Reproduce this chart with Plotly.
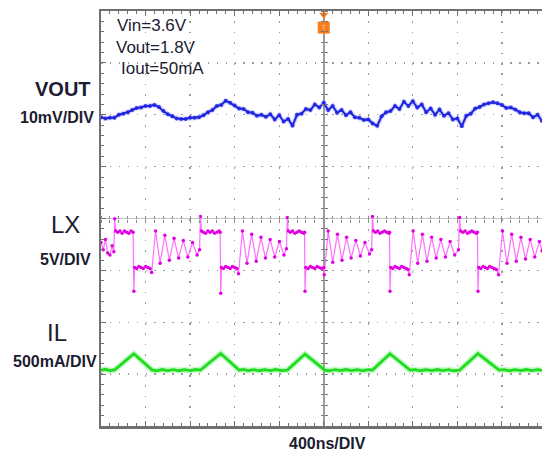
import numpy as np
import plotly.graph_objects as go

# ---------------- data ----------------
# time axis: ns relative to trigger, 400 ns/div
VOUT_T0 = -2000
VOUT_DT = 40
VOUT_mV = [1799.5, 1799.3, 1799.4, 1799.4, 1800.0, 1800.2, 1800.5, 1800.9, 1801.3, 1801.4,
           1801.7, 1801.7, 1801.9, 1801.5, 1800.7, 1800.1, 1799.7, 1799.3, 1799.2, 1799.2,
           1799.4, 1799.4, 1799.5, 1799.9, 1800.5, 1800.9, 1801.7, 1801.9, 1802.7, 1802.3,
           1801.8, 1801.2, 1801.1, 1800.5, 1800.4, 1799.8, 1800.0, 1799.6, 1800.1, 1799.1,
           1799.9, 1798.7, 1799.2, 1797.9, 1800.0, 1800.2, 1801.1, 1800.9, 1802.0, 1801.4,
           1802.3, 1800.9, 1801.7, 1800.4, 1800.9, 1799.9, 1800.5, 1799.5, 1799.4, 1799.0,
           1799.1, 1798.3, 1797.9, 1799.7, 1800.5, 1800.7, 1801.7, 1801.1, 1802.5, 1801.7,
           1802.6, 1801.4, 1802.0, 1800.5, 1801.2, 1800.0, 1801.0, 1799.8, 1800.3, 1799.1,
           1799.3, 1797.8, 1799.8, 1800.2, 1801.2, 1801.5, 1802.0, 1802.2, 1802.4, 1802.2,
           1801.9, 1801.3, 1801.4, 1801.0, 1800.5, 1800.3, 1800.3, 1799.5, 1800.0, 1798.8]

LX_T = [-2000, -1980, -1960, -1940, -1920, -1900, -1885,
        -1877, -1868, -1850, -1830, -1810, -1790, -1770, -1750, -1730, -1712,
        -1705, -1698, -1680, -1660, -1640, -1620, -1600, -1580, -1560, -1545,
        -1510, -1469, -1427, -1386, -1344, -1303, -1261, -1220, -1178, -1137, -1115,
        -1107, -1098, -1080, -1060, -1040, -1020, -1000, -980, -960, -940, -930,
        -925, -918, -900, -880, -860, -840, -820, -800, -780, -765,
        -730, -689, -647, -606, -564, -523, -481, -440, -398, -357, -335,
        -327, -318, -300, -280, -260, -240, -220, -200, -180, -172,
        -168, -161, -140, -120, -100, -80, -60, -40, -20, 0, 5,
        40, 81, 123, 164, 205, 246, 288, 329, 370, 411, 430,
        438, 447, 465, 485, 505, 525, 545, 565, 585, 591,
        595, 602, 620, 640, 660, 680, 700, 720, 740, 755, 768,
        803, 844, 886, 927, 969, 1010, 1052, 1093, 1135, 1176, 1210,
        1220, 1229, 1250, 1270, 1290, 1310, 1330, 1350, 1370, 1380,
        1385, 1392, 1410, 1430, 1450, 1470, 1490, 1510, 1530, 1550, 1570,
        1605, 1646, 1688, 1729, 1771, 1812, 1854, 1895, 1937, 1960]
LX_V = [2.3, 1.6, 2.6, 1.3, 1.1, 2.0, 1.4,
        4.6, 3.4, 3.3, 3.4, 3.2, 3.4, 3.3, 3.2, 3.4, 3.3,
        -2.4, -0.1, -0.2, 0.0, -0.1, -0.2, 0.0, -0.1, -0.2, -0.6,
        3.4, 0.3, 3.0, 0.6, 2.7, 0.8, 2.5, 0.9, 2.3, 1.1, 1.6,
        4.8, 3.4, 3.3, 3.2, 3.4, 3.3, 3.4, 3.2, 3.3, 3.4, 3.3,
        -2.6, -0.1, -0.2, 0.0, -0.1, -0.2, 0.0, -0.1, -0.2, -0.7,
        3.4, 0.3, 3.1, 0.5, 2.8, 0.8, 2.6, 0.9, 2.4, 1.1, 1.7,
        4.7, 3.4, 3.3, 3.4, 3.2, 3.3, 3.4, 3.3, 3.2, 3.3,
        -2.4, -0.1, -0.2, 0.0, -0.1, -0.2, 0.0, -0.1, -0.2, -0.1, -0.8,
        3.4, 0.4, 3.1, 0.6, 2.8, 0.8, 2.5, 1.0, 2.3, 1.2, 1.6,
        4.8, 3.4, 3.3, 3.4, 3.2, 3.3, 3.4, 3.3, 3.2, 3.3,
        -2.4, -0.1, -0.2, 0.0, -0.1, -0.2, 0.0, -0.1, -0.2, -0.3, -0.8,
        3.4, 0.3, 3.1, 0.5, 2.8, 0.8, 2.6, 0.9, 2.4, 1.1, 1.6,
        4.7, 3.4, 3.3, 3.4, 3.2, 3.3, 3.4, 3.3, 3.2, 3.3,
        -2.4, -0.1, -0.2, 0.0, -0.1, -0.2, 0.0, -0.1, -0.2, -0.3, -0.8,
        3.4, 0.3, 3.1, 0.5, 2.8, 0.7, 2.6, 0.9, 2.4, 1.5]

IL_T = [-2000, -1960, -1920, -1877, -1705, -1540, -1500, -1450, -1400, -1350, -1300, -1250,
        -1200, -1150, -1107, -925, -760, -720, -680, -630, -580, -530, -480, -430, -380,
        -327, -168, 10, 50, 100, 150, 200, 250, 300, 350, 400, 438, 595, 775, 820, 870,
        920, 970, 1020, 1070, 1120, 1170, 1220, 1385, 1575, 1620, 1670, 1720, 1770, 1820,
        1870, 1920, 1960]
IL_mA = [0, 8, -5, 2, 158, 0, -6, 6, -4, 5, -6, 4, -5, 6, 0, 160, 0, 6, -5, 5, -6, 4, -5, 6,
         -4, 0, 155, 0, -6, 5, -5, 6, -4, 5, -6, 4, 0, 158, 0, 5, -6, 4, -5, 6, -4, 5, -6, 0,
         160, 0, 5, -6, 4, -5, 6, -4, 5, -3]

TRIGGER_T = [0]

# ---------------- scope geometry ----------------
W, H = 542, 452
ML, MR, MT, MB = 101, 0, 11, 26
NS_PER_DIV = 400
X_RANGE = [-2000, 1960]
Y_DIV = [-4, 4]
# channel scale (units/div) and position of channel zero in divisions
VOUT_SCALE, VOUT_POS, VOUT_REF = 10.0, 2.0, 1800.0
LX_SCALE, LX_POS = 5.0, -0.923
IL_SCALE, IL_POS = 500.0, -2.923


def ch_range(scale, pos, ref=0.0):
    return [ref + (Y_DIV[0] - pos) * scale, ref + (Y_DIV[1] - pos) * scale]


PW = W - ML - MR
PH = H - MT - MB


def px(xp, yp):
    return (xp - ML) / PW, (H - MB - yp) / PH


GRID = "#9a9a9a"
FRAME = "#707070"
TXT = "#1c1c30"

fig = go.Figure()

t_vout = VOUT_T0 + VOUT_DT * np.arange(len(VOUT_mV))

fig.add_trace(go.Scatter(x=t_vout, y=VOUT_mV, xaxis="x", yaxis="y2", mode="lines",
                         line=dict(color="rgba(90,100,255,0.25)", width=5),
                         hoverinfo="skip", showlegend=False))
fig.add_trace(go.Scatter(x=t_vout, y=VOUT_mV, xaxis="x", yaxis="y2", mode="lines+markers",
                         line=dict(color="rgb(30,35,220)", width=2.0),
                         marker=dict(color="rgba(30,35,225,0.85)", size=4, line=dict(width=0)),
                         name="VOUT", showlegend=False))

fig.add_trace(go.Scatter(x=LX_T, y=LX_V, xaxis="x", yaxis="y3", mode="lines+markers",
                         line=dict(color="rgb(255,110,255)", width=1.2),
                         marker=dict(color="rgb(225,0,225)", size=3.5, line=dict(width=0)),
                         name="LX", showlegend=False))

fig.add_trace(go.Scatter(x=IL_T, y=IL_mA, xaxis="x", yaxis="y4", mode="lines",
                         line=dict(color="rgba(90,240,90,0.35)", width=6),
                         hoverinfo="skip", showlegend=False))
fig.add_trace(go.Scatter(x=IL_T, y=IL_mA, xaxis="x", yaxis="y4", mode="lines",
                         line=dict(color="rgb(30,220,30)", width=2.8),
                         name="IL", showlegend=False))

# trigger marker
fig.add_trace(go.Scatter(x=TRIGGER_T, y=[3.68], xaxis="x", yaxis="y", mode="markers+text",
                         marker=dict(symbol="square", size=12, color="rgb(245,125,30)"),
                         text=["T"], textfont=dict(size=8, color="rgb(255,200,150)"),
                         textposition="middle center", hoverinfo="skip", showlegend=False))
fig.add_trace(go.Scatter(x=TRIGGER_T, y=[3.93], xaxis="x", yaxis="y", mode="markers",
                         marker=dict(symbol="triangle-down", size=8, color="rgb(245,125,30)"),
                         hoverinfo="skip", showlegend=False))

# dummy traces so decoration axes are drawn
for xa, ya in [("x2", "y"), ("x3", "y"), ("x4", "y"), ("x", "y5"), ("x", "y6")]:
    fig.add_trace(go.Scatter(x=[None], y=[None], xaxis=xa, yaxis=ya, mode="lines",
                             hoverinfo="skip", showlegend=False))

xc = (0 - X_RANGE[0]) / (X_RANGE[1] - X_RANGE[0])
minor_x = dict(dtick=NS_PER_DIV / 5, tick0=0, ticks="inside", ticklen=3, tickcolor=FRAME,
               showgrid=False)
minor_y = dict(dtick=0.2, tick0=0, ticks="inside", ticklen=3, tickcolor=FRAME, showgrid=False)

layout = dict(
    width=W, height=H,
    margin=dict(l=ML, r=MR, t=MT, b=MB, pad=0),
    paper_bgcolor="white", plot_bgcolor="white",
    showlegend=False, hovermode=False,
    xaxis=dict(range=X_RANGE, dtick=NS_PER_DIV, tick0=0, showticklabels=False,
               showgrid=True, gridcolor=GRID, gridwidth=1.3, griddash="1.5px,8.9px",
               zeroline=True, zerolinecolor="#9c9c9c", zerolinewidth=1.6,
               showline=True, linecolor=FRAME, linewidth=2.5,
               ticks="inside", ticklen=5, tickcolor=FRAME, minor=minor_x, fixedrange=True),
    xaxis2=dict(range=X_RANGE, overlaying="x", side="top", anchor="y", showticklabels=False,
                showgrid=False, zeroline=False, showline=True, linecolor=FRAME, linewidth=2.5,
                dtick=NS_PER_DIV, tick0=0, ticks="inside", ticklen=5, tickcolor=FRAME,
                minor=minor_x),
    xaxis3=dict(range=X_RANGE, overlaying="x", anchor="free", position=0.5, side="bottom",
                showticklabels=False, showgrid=False, zeroline=False, showline=False,
                dtick=NS_PER_DIV / 5, tick0=0, ticks="outside", ticklen=3, tickcolor="#8a8a8a"),
    xaxis4=dict(range=X_RANGE, overlaying="x", anchor="free", position=0.5, side="top",
                showticklabels=False, showgrid=False, zeroline=False, showline=False,
                dtick=NS_PER_DIV / 5, tick0=0, ticks="outside", ticklen=3, tickcolor="#8a8a8a"),
    yaxis=dict(range=Y_DIV, dtick=1, tick0=0, showticklabels=False,
               showgrid=True, gridcolor=GRID, gridwidth=1.3, griddash="1.5px,7.4px",
               zeroline=True, zerolinecolor="#c4c4c4", zerolinewidth=1,
               showline=True, linecolor=FRAME, linewidth=2.5,
               ticks="inside", ticklen=5, tickcolor=FRAME, minor=minor_y, fixedrange=True),
    yaxis2=dict(range=ch_range(VOUT_SCALE, VOUT_POS, VOUT_REF), overlaying="y", visible=False),
    yaxis3=dict(range=ch_range(LX_SCALE, LX_POS), overlaying="y", visible=False),
    yaxis4=dict(range=ch_range(IL_SCALE, IL_POS), overlaying="y", visible=False),
    yaxis5=dict(range=Y_DIV, overlaying="y", anchor="free", position=xc, side="left",
                showticklabels=False, showgrid=False, zeroline=False, showline=False,
                dtick=0.2, tick0=0, ticks="outside", ticklen=3, tickcolor="#777777"),
    yaxis6=dict(range=Y_DIV, overlaying="y", anchor="free", position=xc, side="right",
                showticklabels=False, showgrid=False, zeroline=False, showline=False,
                dtick=0.2, tick0=0, ticks="outside", ticklen=3, tickcolor="#777777"),
)
fig.update_layout(**layout)

FONT = "Liberation Sans, Arial, sans-serif"
labels = [
    ("VOUT", 63, 89, 20, True),
    ("10mV/DIV", 57, 118, 16, True),
    ("LX", 65, 225, 24, False),
    ("5V/DIV", 65, 259, 16, True),
    ("IL", 57, 332, 24, False),
    ("500mA/DIV", 55, 361, 16, True),
    ("400ns/DIV", 327, 443, 16, True),
    ("Vin=3.6V", 152, 25, 17, False),
    ("Vout=1.8V", 156, 48, 17, False),
    ("Iout=50mA", 162, 68, 17, False),
]
for text, xp, yp, size, bold in labels:
    fx, fy = px(xp, yp)
    fig.add_annotation(x=fx, y=fy, xref="paper", yref="paper", showarrow=False,
                       text=f"<b>{text}</b>" if bold else text,
                       font=dict(family=FONT, size=size, color=TXT),
                       xanchor="center", yanchor="middle")

# the page's default 8px body margin would shift the scope screen; remove it
fig.write_html("out.html", config={"displayModeBar": False, "staticPlot": True},
               post_script="document.body.style.margin='0px';")
